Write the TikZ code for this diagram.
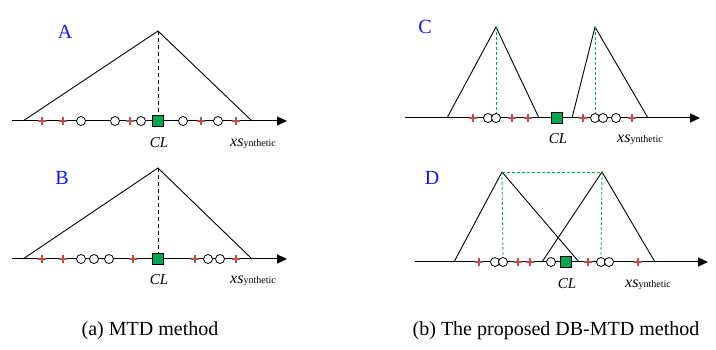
\documentclass[tikz,border=0pt]{standalone}
\usepackage{fontspec}
\setmainfont{Liberation Serif}
\usetikzlibrary{arrows.meta}
\definecolor{crossred}{RGB}{190,78,74}
\definecolor{clgreen}{RGB}{0,168,80}
\definecolor{panelblue}{RGB}{20,20,245}

\begin{document}
\begin{tikzpicture}[x=1pt, y=-1pt,
    axis/.style={-{Triangle[length=10pt,width=9pt]}, line width=1pt},
    member/.style={line width=0.9pt},
    sample/.style={circle, draw, fill=white, line width=0.8pt, minimum size=9pt, inner sep=0pt},
    pics/synth/.style={code={\draw[crossred, line width=2.8pt] (-3.8,0) -- (3.8,0) (0,-3.8) -- (0,3.8);}},
    clbox/.style={rectangle, draw, fill=clgreen, line width=0.8pt, minimum size=10.5pt, inner sep=0pt},
    panel/.style={font=\fontsize{20}{24}\selectfont, text=panelblue},
    caption/.style={font=\fontsize{20}{24}\selectfont},
    cltext/.style={font=\fontsize{15}{18}\selectfont\itshape},
    greendash/.style={draw=clgreen, line width=0.8pt, dash pattern=on 3pt off 2pt}]
    \useasboundingbox (0,0) rectangle (716,350);
    \newcommand{\xsyn}{{\fontsize{16}{18}\selectfont\itshape xs}{\fontsize{10}{12}\selectfont ynthetic}}

    % Panel A
    \coordinate (aS) at (12,121);
    \coordinate (aE) at (287,121);
    \coordinate (aL) at (23,121);
    \coordinate (aT) at (158,31);
    \coordinate (aR) at (252,121);
    \draw[axis] (aS) -- (aE);
    \draw[member] (aL) -- (aT) -- (aR);
    \node[clbox] (clA) at (158,121) {};
    \draw[line width=0.8pt, dash pattern=on 4pt off 3pt] (aT) -- (clA.north);
    \foreach \x in {81,115,141,183,218} \node[sample] at (\x,121) {};
    \foreach \x in {42,63,130,201,236} \pic at (\x,121) {synth};
    \node[panel] (labA) at (65,32) {A};
    \node[cltext] (clTextA) at (159,143) {CL};
    \node (synA) at (253,144) {\xsyn};

    % Panel B
    \coordinate (bS) at (12,259);
    \coordinate (bE) at (287,259);
    \coordinate (bL) at (23,259);
    \coordinate (bT) at (158,168);
    \coordinate (bR) at (252,259);
    \draw[axis] (bS) -- (bE);
    \draw[member] (bL) -- (bT) -- (bR);
    \node[clbox] (clB) at (158,259) {};
    \draw[line width=0.8pt, dash pattern=on 4pt off 3pt] (bT) -- (clB.north);
    \foreach \x in {81,94,109,208,220} \node[sample] at (\x,259) {};
    \foreach \x in {42,63,133,195,236} \pic at (\x,259) {synth};
    \node[panel] (labB) at (62,178) {B};
    \node[cltext] (clTextB) at (159,280) {CL};
    \node (synB) at (253,281) {\xsyn};

    % Panel C
    \coordinate (cS) at (405,118);
    \coordinate (cE) at (700,118);
    \coordinate (c1L) at (447,118);
    \coordinate (c1T) at (496,27);
    \coordinate (c1R) at (539,118);
    \coordinate (c2L) at (572,118);
    \coordinate (c2T) at (595,27);
    \coordinate (c2R) at (648,118);
    \draw[axis] (cS) -- (cE);
    \draw[member] (c1L) -- (c1T) -- (c1R);
    \draw[member] (c2L) -- (c2T) -- (c2R);
    \node[clbox] (clC) at (557,118) {};
    \node[sample] at (488,118) {};
    \node[sample] (c1P) at (496,118) {};
    \node[sample] (c2P) at (595,118) {};
    \foreach \x in {603,616} \node[sample] at (\x,118) {};
    \foreach \x in {473,512,528,583,632} \pic at (\x,118) {synth};
    \draw[greendash] (c1T) -- (c1P.north);
    \draw[greendash] (c2T) -- (c2P.north);
    \node[panel] (labC) at (425,27) {C};
    \node[cltext] (clTextC) at (558,139) {CL};
    \node (synC) at (640,140) {\xsyn};

    % Panel D
    \coordinate (dS) at (415,262);
    \coordinate (dE) at (708,262);
    \coordinate (d1L) at (454,262);
    \coordinate (d1T) at (502,172);
    \coordinate (d1R) at (579,262);
    \coordinate (d2L) at (542,262);
    \coordinate (d2T) at (602,172);
    \coordinate (d2R) at (655,262);
    \draw[axis] (dS) -- (dE);
    \draw[member] (d1L) -- (d1T) -- (d1R);
    \draw[member] (d2L) -- (d2T) -- (d2R);
    \draw[greendash] (d1T) -- (d2T);
    \node[clbox] (clD) at (566,262) {};
    \node[sample] at (495,262) {};
    \node[sample] (d1P) at (503,262) {};
    \node[sample] at (551,262) {};
    \node[sample] (d2P) at (601,262) {};
    \node[sample] at (609,262) {};
    \foreach \x in {479,518,530,588,638} \pic at (\x,262) {synth};
    \draw[greendash] (d1T) -- (d1P.north);
    \draw[greendash] (d2T) -- (d2P.north);
    \node[panel] (labD) at (432,178) {D};
    \node[cltext] (clTextD) at (567,284) {CL};
    \node (synD) at (648,285) {\xsyn};

    % Captions
    \node[caption] (capA) at (150,331) {(a) MTD method};
    \node[caption] (capB) at (556,331) {(b) The proposed DB-MTD method};
\end{tikzpicture}
\end{document}
